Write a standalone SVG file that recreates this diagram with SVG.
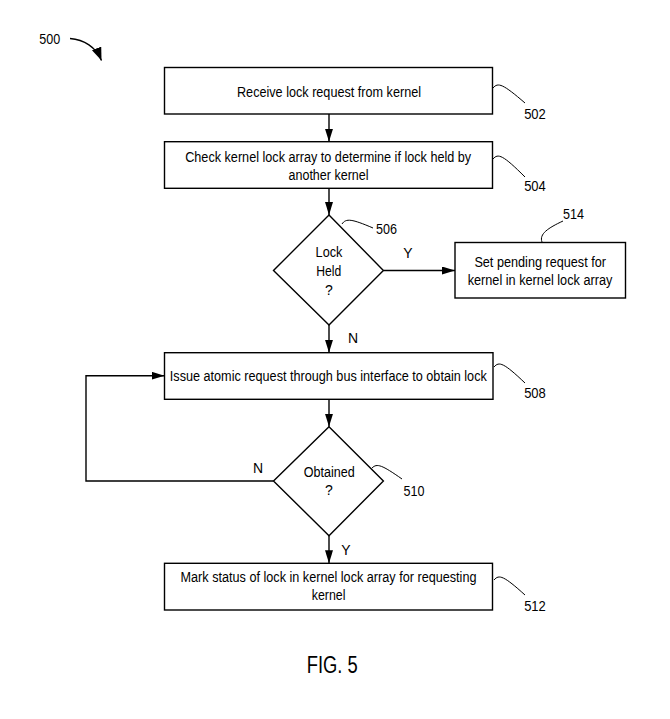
<svg xmlns="http://www.w3.org/2000/svg" width="670" height="719" viewBox="0 0 670 719">
<style>
.box{fill:#fff;stroke:#000;stroke-width:1.4}
.t{font-family:"Liberation Sans",Arial,sans-serif;font-size:14px;fill:#000;text-anchor:middle}
.lbl{font-family:"Liberation Sans",Arial,sans-serif;font-size:15px;fill:#000;text-anchor:middle}
.c{fill:none;stroke:#000;stroke-width:1.4}
.lead{fill:none;stroke:#000;stroke-width:1}
</style>
<defs>
<marker id="ah" markerUnits="userSpaceOnUse" markerWidth="14" markerHeight="10" refX="13" refY="4" orient="auto">
<path d="M0,0 L13,4 L0,8 Z" fill="#000"/>
</marker>
<marker id="ah2" markerUnits="userSpaceOnUse" markerWidth="14" markerHeight="12" refX="13" refY="5" orient="auto">
<path d="M0,0 L13,5 L0,10 Z" fill="#000"/>
</marker>
</defs>
<rect width="670" height="719" fill="#fff"/>
<g id="label500">
<text class="lbl" x="49.7" y="44" textLength="21" lengthAdjust="spacingAndGlyphs">500</text>
</g>
<g id="connectors">
<path class="c" d="M70,38.5 C84,39.5 96,47 101.5,60.5" marker-end="url(#ah2)" stroke-width="1.8"/>
<path class="c" d="M329,114 V141.7" marker-end="url(#ah)"/>
<path class="c" d="M329,188.3 V215" marker-end="url(#ah)"/>
<path class="c" d="M383.4,270.5 H455" marker-end="url(#ah)"/>
<path class="c" d="M329,325 V352.7" marker-end="url(#ah)"/>
<path class="c" d="M329,399.3 V426.7" marker-end="url(#ah)"/>
<path class="c" d="M329,535.7 V563.3" marker-end="url(#ah)"/>
<path class="c" d="M273.5,481 H86 V375.7 H164.5" marker-end="url(#ah)"/>
<text class="t" x="408" y="258">Y</text>
<text class="t" x="353" y="343">N</text>
<text class="t" x="258" y="473">N</text>
<text class="t" x="346" y="555">Y</text>
</g>
<g id="n502">
<rect class="box" x="164.5" y="67.5" width="328" height="46.5"/>
<text class="t" x="329" y="96.5" textLength="184" lengthAdjust="spacingAndGlyphs">Receive lock request from kernel</text>
<path class="lead" d="M493,88 C498,82 503,84 525,103"/>
<text class="lbl" x="535" y="119" textLength="21.7" lengthAdjust="spacingAndGlyphs">502</text>
</g>
<g id="n504">
<rect class="box" x="164.5" y="141.7" width="328" height="46.6"/>
<text class="t" x="328.2" y="161.5" textLength="286" lengthAdjust="spacingAndGlyphs">Check kernel lock array to determine if lock held by</text>
<text class="t" x="328.5" y="180" textLength="80" lengthAdjust="spacingAndGlyphs">another kernel</text>
<path class="lead" d="M493,159 C498,153 503,155 525,177"/>
<text class="lbl" x="535" y="190.5" textLength="21.7" lengthAdjust="spacingAndGlyphs">504</text>
</g>
<g id="n506">
<path class="box" d="M329,215 L383.4,270.5 L329,325 L273.5,270.5 Z"/>
<text class="t" x="329" y="256.5" textLength="26.8" lengthAdjust="spacingAndGlyphs">Lock</text>
<text class="t" x="328.8" y="275.5" textLength="25" lengthAdjust="spacingAndGlyphs">Held</text>
<text class="t" x="329" y="295">?</text>
<path class="lead" d="M342,224 C346,218 352,219 373,228"/>
<text class="lbl" x="386.5" y="234" textLength="21" lengthAdjust="spacingAndGlyphs">506</text>
</g>
<g id="n514">
<rect class="box" x="455" y="242.5" width="170.5" height="55.5"/>
<text class="t" x="540.2" y="266.5" textLength="131.6" lengthAdjust="spacingAndGlyphs">Set pending request for</text>
<text class="t" x="540" y="285" textLength="144.7" lengthAdjust="spacingAndGlyphs">kernel in kernel lock array</text>
<path class="lead" d="M542,242 C539,234 548,228 563,221"/>
<text class="lbl" x="573.5" y="219" textLength="21" lengthAdjust="spacingAndGlyphs">514</text>
</g>
<g id="n508">
<rect class="box" x="164.5" y="352.7" width="328.5" height="46.6"/>
<text class="t" x="328.3" y="380.5" textLength="317" lengthAdjust="spacingAndGlyphs">Issue atomic request through bus interface to obtain lock</text>
<path class="lead" d="M494,367 C499,361 504,363 525,383"/>
<text class="lbl" x="535" y="398" textLength="21.7" lengthAdjust="spacingAndGlyphs">508</text>
</g>
<g id="n510">
<path class="box" d="M329,426.7 L383.4,481 L329,535.7 L273.5,481 Z"/>
<text class="t" x="329.2" y="476.5" textLength="51" lengthAdjust="spacingAndGlyphs">Obtained</text>
<text class="t" x="329" y="495">?</text>
<path class="lead" d="M372,468 C377,463 382,465 402,479"/>
<text class="lbl" x="414" y="496" textLength="21" lengthAdjust="spacingAndGlyphs">510</text>
</g>
<g id="n512">
<rect class="box" x="164.5" y="563.3" width="328" height="46.7"/>
<text class="t" x="328.5" y="582" textLength="296" lengthAdjust="spacingAndGlyphs">Mark status of lock in kernel lock array for requesting</text>
<text class="t" x="328.6" y="600" textLength="33.7" lengthAdjust="spacingAndGlyphs">kernel</text>
<path class="lead" d="M494,580 C499,574 504,576 525,595"/>
<text class="lbl" x="535" y="610.5" textLength="21.7" lengthAdjust="spacingAndGlyphs">512</text>
</g>
<g id="caption">
<text class="lbl" x="332.2" y="673" style="font-size:23px" textLength="51" lengthAdjust="spacingAndGlyphs">FIG. 5</text>
</g>
</svg>
